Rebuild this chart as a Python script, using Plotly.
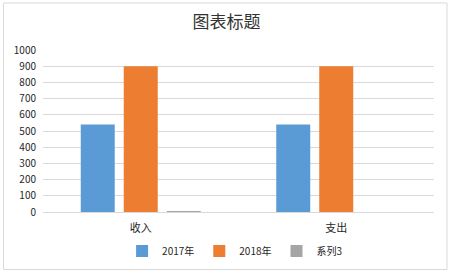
import plotly.graph_objects as go

categories = ["收入", "支出"]
series_names = ["2017年", "2018年", "系列3"]
values_2017 = [540, 540]
values_2018 = [900, 900]
values_s3 = [5, None]
colors = ["#5b9bd5", "#ed7d31", "#a5a5a5"]
y_ticks = [0, 100, 200, 300, 400, 500, 600, 700, 800, 900, 1000]

font_cjk = "Noto Sans CJK SC, Noto Sans, sans-serif"
txt = "#262626"

fig = go.Figure()
for name, vals, col in zip(series_names, [values_2017, values_2018, values_s3], colors):
    fig.add_trace(go.Bar(x=categories, y=vals, name=name, marker=dict(color=col, line=dict(width=0))))

fig.update_layout(
    width=453, height=275,
    margin=dict(l=43, r=19, t=50, b=63, autoexpand=False),
    paper_bgcolor="white", plot_bgcolor="white",
    barmode="group", bargap=0.34, bargroupgap=0.21,
    title=dict(text="图表标题", x=0.5, xanchor="center", y=1 - 22 / 275, yanchor="middle",
               yref="container", font=dict(family=font_cjk, size=17, color="#333333")),
    legend=dict(orientation="h", x=0.49, xanchor="center",
                y=(212 - 251) / 162, yanchor="middle",
                font=dict(family=font_cjk, size=10, color=txt),
                itemwidth=30, traceorder="normal", itemclick=False),
    showlegend=True,
    font=dict(family=font_cjk, size=10, color=txt),
    shapes=[dict(type="rect", xref="paper", yref="paper",
                 x0=(3.5 - 43) / 391, x1=(447 - 43) / 391,
                 y0=(212 - 269.5) / 162, y1=(212 - 3) / 162,
                 line=dict(color="#d9d9d9", width=1), fillcolor="rgba(0,0,0,0)", layer="below")],
)
fig.update_yaxes(range=[0, 1000], tickvals=y_ticks, showgrid=True, gridcolor="#d9d9d9", gridwidth=1,
                 zeroline=False, showline=False, ticks="", ticklabelstandoff=6,
                 tickfont=dict(family=font_cjk, size=10, color=txt), fixedrange=True)
fig.update_xaxes(showline=True, linecolor="#d9d9d9", linewidth=1, ticks="", ticklabelstandoff=6,
                 tickfont=dict(family=font_cjk, size=11, color=txt), fixedrange=True)

fig.write_html("out.html", config={"displayModeBar": False})
